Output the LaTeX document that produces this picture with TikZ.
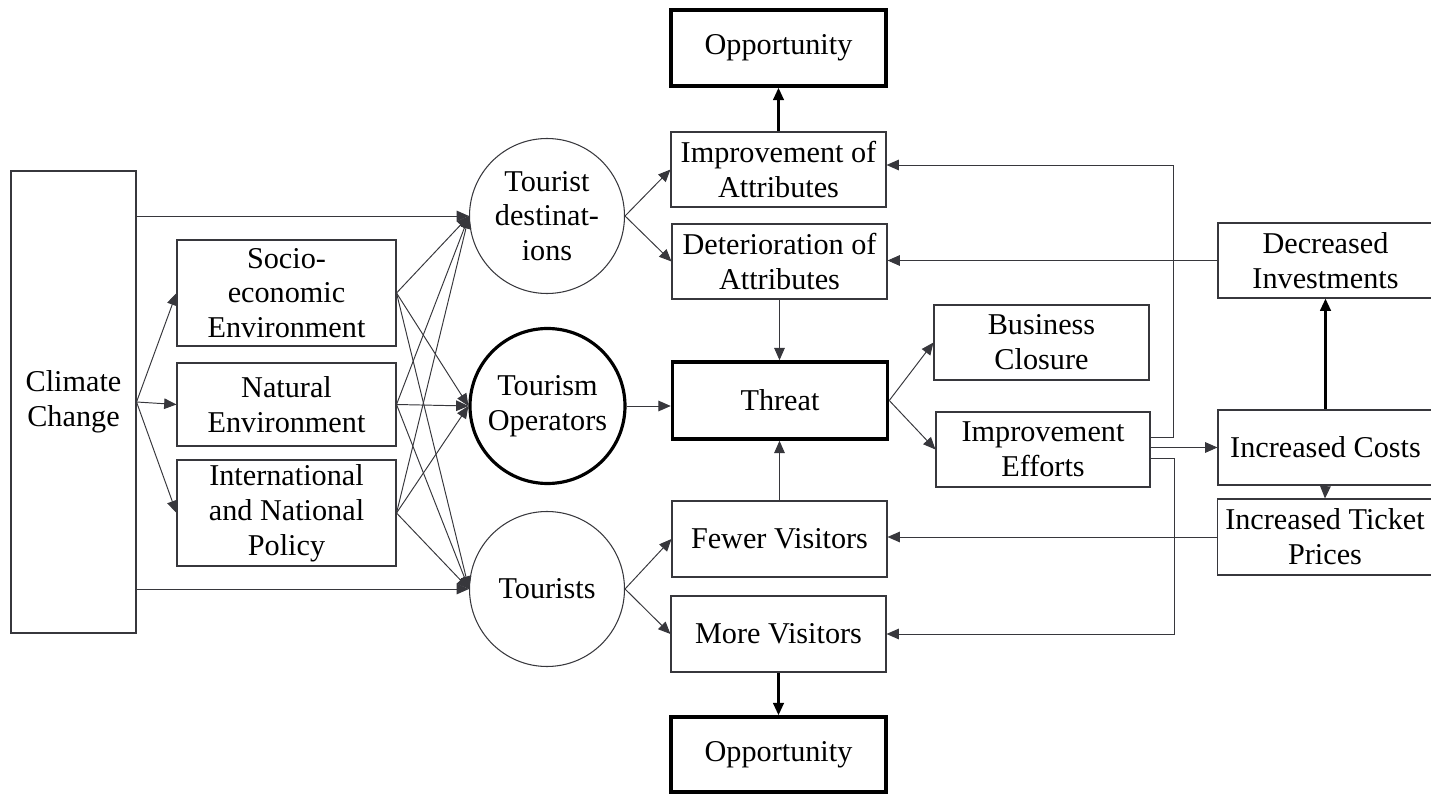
\documentclass[tikz,border=0pt]{standalone}
\usepackage{fontspec}
\setmainfont{Liberation Serif}
\usepackage{xcolor}
\usepackage{tikz}
\usetikzlibrary{shapes.geometric,arrows.meta,calc}
\definecolor{linegray}{RGB}{55,55,60}

\tikzset{
  box/.style={draw=linegray, line width=0.6pt, rectangle, inner sep=0pt, align=center,
    minimum width=4.3cm, minimum height=1.5cm, font=\fontsize{17.2}{19.8}\selectfont},
  bigbox/.style={box, draw=black, line width=2pt},
  circ/.style={draw=linegray, line width=0.6pt, circle, inner sep=0pt, align=center,
    minimum size=3.1cm, font=\fontsize{17.2}{19.8}\selectfont},
  conn/.style={draw=linegray, line width=0.55pt, -{Triangle[length=7pt,width=6pt]}},
  boldconn/.style={draw=black, line width=1.4pt, -{Triangle[length=7pt,width=6pt]}}
}

\begin{document}
\begin{tikzpicture}
\useasboundingbox (0,0) rectangle (28.62,-15.88);

\node[box, minimum width=2.5cm, minimum height=9.24cm] (climate) at (1.47,-8.04) {Climate\\Change};
\node[box, minimum width=4.38cm, minimum height=2.12cm] (socio) at (5.73,-5.86) {Socio-\\economic\\Environment};
\node[box, minimum width=4.38cm, minimum height=1.66cm] (natural) at (5.73,-8.09) {Natural\\Environment};
\node[box, minimum width=4.38cm, minimum height=2.12cm] (policy) at (5.73,-10.26) {International\\and National\\Policy};

\node[circ] (dest) at (10.94,-4.32) {Tourist\\destinat-\\ions};
\node[circ, draw=black, line width=1.8pt] (oper) at (10.95,-8.12) {Tourism\\Operators};
\node[circ] (tourists) at (10.94,-11.78) {Tourists};

\node[bigbox, minimum height=1.52cm] (opptop) at (15.57,-0.96) {Opportunity};
\node[box] (impr) at (15.57,-3.39) {Improvement of\\Attributes};
\node[box] (det) at (15.59,-5.23) {Deterioration of\\Attributes};
\node[bigbox, minimum height=1.54cm] (threat) at (15.6,-8.01) {Threat};
\node[box, minimum height=1.52cm] (fewer) at (15.59,-10.78) {Fewer Visitors};
\node[box, minimum height=1.52cm] (more) at (15.57,-12.68) {More Visitors};
\node[bigbox] (oppbot) at (15.57,-15.09) {Opportunity};

\node[box] (closure) at (20.83,-6.85) {Business\\Closure};
\node[box, minimum width=4.28cm] (effort) at (20.86,-8.99) {Improvement\\Efforts};

\node[box] (dec) at (26.51,-5.21) {Decreased\\Investments};
\node[box] (costs) at (26.51,-8.95) {Increased Costs};
\node[box, minimum height=1.52cm] (ticket) at (26.5,-10.74) {Increased Ticket\\Prices};

% climate drivers
\draw[conn] (climate.east |- dest.west) -- (dest.west);
\draw[conn] (climate.east |- tourists.west) -- (tourists.west);
\foreach \b in {socio,natural,policy}
  \draw[conn] (climate.east) -- (\b.west);
\foreach \a in {socio,natural,policy}
  \foreach \b in {dest,oper,tourists}
    \draw[conn] (\a.east) -- (\b.west);

% middle column
\draw[conn] (dest.east) -- (impr.west);
\draw[conn] (dest.east) -- (det.west);
\draw[conn] (oper.east) -- (oper.east -| threat.west);
\draw[conn] (tourists.east) -- (fewer.west);
\draw[conn] (tourists.east) -- (more.west);
\draw[boldconn] (impr.north) -- (opptop.south);
\draw[boldconn] (more.south) -- (oppbot.north);
\draw[conn] (det.south) -- (det.south |- threat.north);
\draw[conn] (fewer.north) -- (fewer.north |- threat.south);

% responses
\draw[conn] (threat.east) -- (closure.west);
\draw[conn] (threat.east) -- (effort.west);
\draw[conn] ([yshift=0.25cm]effort.east) -- ++(0.46,0) |- ([yshift=0.09cm]impr.east);
\draw[conn] (effort.east |- costs.west) -- (costs.west);
\draw[conn] ([yshift=-0.17cm]effort.east) -- ++(0.48,0) |- (more.east);
\draw[conn] (dec.west) -- (dec.west -| det.east);
\draw[conn] (ticket.west) -- (ticket.west -| fewer.east);
\draw[boldconn] (costs.north) -- (dec.south);
\draw[conn] (costs.south) -- (ticket.north);
\end{tikzpicture}
\end{document}
